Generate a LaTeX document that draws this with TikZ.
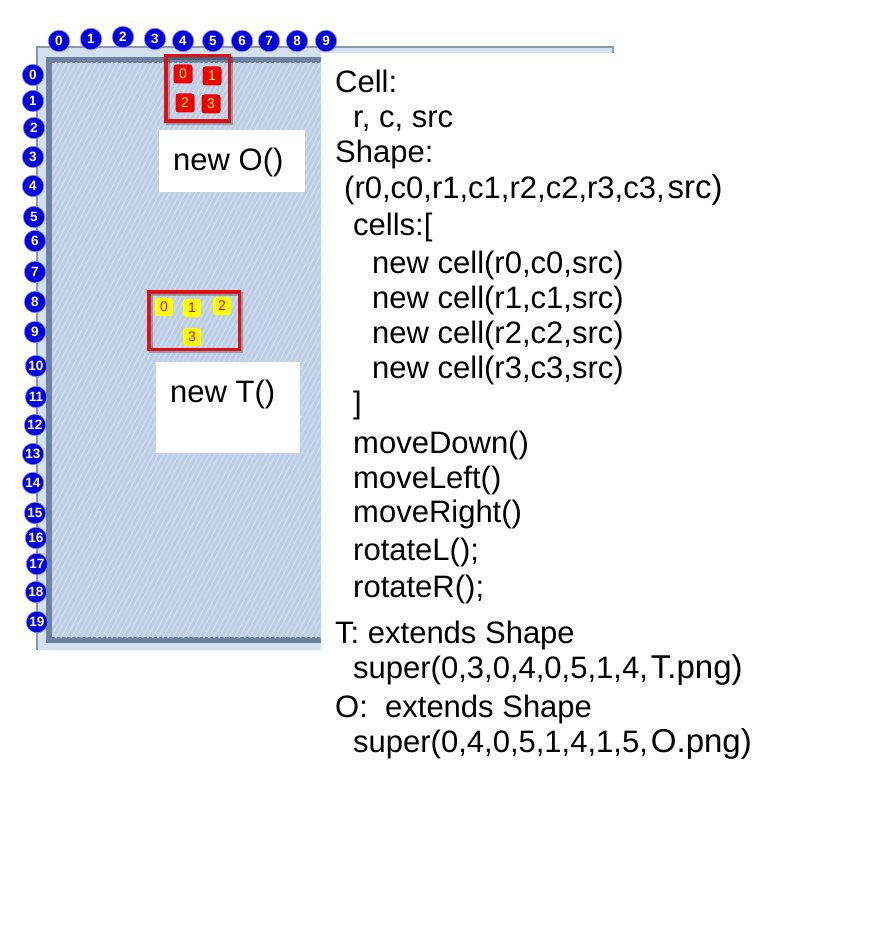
\documentclass[tikz,border=0pt]{standalone}
\usepackage{fontspec}
\setmainfont{Liberation Sans}
\usetikzlibrary{patterns.meta}
\definecolor{boardfill}{HTML}{BECFE5}
\definecolor{boardstripe}{HTML}{CFDCEE}
\definecolor{boardedge}{HTML}{6E819F}
\definecolor{boardrim}{HTML}{D3E1F1}
\definecolor{rimline}{HTML}{8C97A8}
\definecolor{badgeblue}{HTML}{0000DD}
\definecolor{cellred}{HTML}{EE0000}
\definecolor{cellyellow}{HTML}{FFFF00}
\definecolor{framered}{HTML}{DD1111}
\newcommand{\pasted}[1]{\hspace{3pt}{\fontsize{33}{36}\selectfont #1}}

\begin{document}
\begin{tikzpicture}[x=1pt, y=-1pt,
  badge/.style={circle, fill=badgeblue, draw=badgeblue!45!white, line width=0.6pt,
                inner sep=0pt, minimum size=21.5pt, text=white,
                font=\fontsize{13.5}{13.5}\selectfont\bfseries},
  ocell/.style={rectangle, rounded corners=3pt, fill=cellred, text=cellyellow,
                minimum size=19pt, inner sep=0pt, font=\fontsize{14}{14}\selectfont},
  tcell/.style={ocell, fill=cellyellow, text=cellred, minimum size=18pt},
  shapeframe/.style={rectangle, draw=framered, line width=3.5pt, inner sep=0pt},
  frameshadow/.style={rectangle, draw=black, opacity=0.25, line width=4pt, inner sep=0pt},
  namebox/.style={rectangle, fill=white, inner sep=0pt},
  codeline/.style={anchor=base west, inner sep=0pt, font=\fontsize{31}{36}\selectfont},
]
  \useasboundingbox (0,0) rectangle (879,925);
  % board
  \fill[boardrim] (37,47) rectangle (613,650);
  \draw[rimline, line width=1.2pt] (37,650) -- (37,47) -- (613,47) -- (613,53);
  \fill[boardedge] (46,57) rectangle (321,643);
  \fill[boardfill] (52,63) rectangle (321,637);
  \fill[pattern={Lines[angle=62, distance=4.5pt, line width=1.2pt]}, pattern color=boardstripe]
    (52,63) rectangle (321,637);
  \fill[white] (321,53) rectangle (879,925);

  % shape labels
  \node[namebox, minimum width=146pt, minimum height=62pt] (obox) at (232,161) {};
  \node[codeline] (otext) at (173,171) {new O()};
  \node[namebox, minimum width=144pt, minimum height=91pt] (tbox) at (228,407.5) {};
  \node[codeline] (ttext) at (170,402) {new T()};

  % O shape
  \node[frameshadow, minimum width=63.5pt, minimum height=65.5pt] at (199.5,90.5) {};
  \node[shapeframe, minimum width=63.5pt, minimum height=65.5pt] (oframe) at (197.5,88.5) {};
  \foreach \n/\x/\y in {0/183/74, 1/212/76, 2/185/103, 3/211/104}
    \node[ocell] (o\n) at (\x,\y) {\n};

  % T shape
  \node[frameshadow, minimum width=90.5pt, minimum height=57.5pt] at (196,322.5) {};
  \node[shapeframe, minimum width=90.5pt, minimum height=57.5pt] (tframe) at (194,320.5) {};
  \foreach \n/\x/\y in {0/164/307, 1/192/308, 2/222/306, 3/192/337}
    \node[tcell] (t\n) at (\x,\y) {\n};

  % column and row numbers
  \foreach \n/\x/\y in {0/59/41, 1/91/39, 2/123/37, 3/155/39, 4/183/41,
                        5/213/41, 6/242/41, 7/269/41, 8/297/41, 9/326/41}
    \node[badge] (col\n) at (\x,\y) {\n};
  \foreach \n/\x/\y in {0/33/75, 1/33/101, 2/34/128, 3/33/157, 4/33/186,
                        5/34/217, 6/35/241, 7/35/272, 8/35/302, 9/35/332,
                        10/36/366, 11/36/397, 12/35/425, 13/33/454, 14/33/483,
                        15/35/513, 16/36/538, 17/37/564, 18/36/592, 19/37/622}
    \node[badge] (row\n) at (\x,\y) {\n};

  % class notes
  \node[codeline] (cell)   at (335,93)  {Cell:};
  \node[codeline] (cellar) at (353,128) {r, c, src};
  \node[codeline] (shape)  at (335,163) {Shape:};
  \node[codeline] (shapear) at (344,199) {(r0,c0,r1,c1,r2,c2,r3,c3,\pasted{src)}};
  \node[codeline] (cells)  at (353,235) {cells:[};
  \node[codeline] (new0)   at (372,273) {new cell(r0,c0,src)};
  \node[codeline] (new1)   at (372,308) {new cell(r1,c1,src)};
  \node[codeline] (new2)   at (372,343) {new cell(r2,c2,src)};
  \node[codeline] (new3)   at (372,378) {new cell(r3,c3,src)};
  \node[codeline] (cellsend) at (353,413) {]};
  \node[codeline] (down)   at (353,453) {moveDown()};
  \node[codeline] (left)   at (353,488) {moveLeft()};
  \node[codeline] (right)  at (353,522) {moveRight()};
  \node[codeline] (rotl)   at (353,560) {rotateL();};
  \node[codeline] (rotr)   at (353,597) {rotateR();};
  \node[codeline] (tclass) at (335,643) {T: extends Shape};
  \node[codeline] (tsuper) at (353,678) {super(0,3,0,4,0,5,1,4,\pasted{T.png)}};
  \node[codeline] (oclass) at (335,717) {O:\ \ extends Shape};
  \node[codeline] (osuper) at (353,752) {super(0,4,0,5,1,4,1,5,\pasted{O.png)}};
\end{tikzpicture}
\end{document}
